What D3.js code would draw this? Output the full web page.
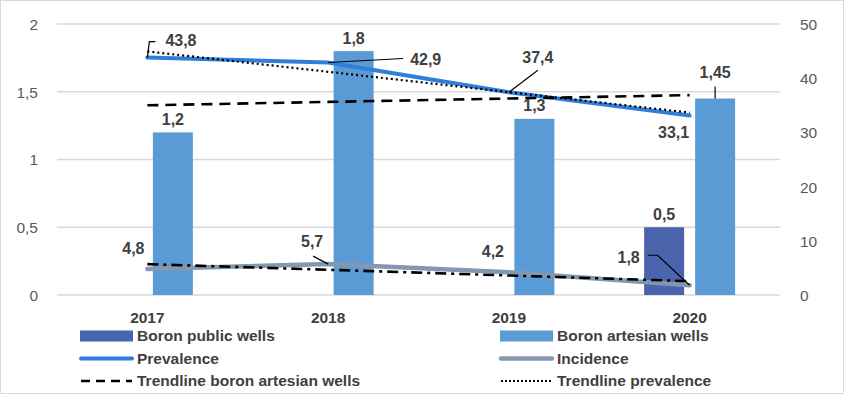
<!DOCTYPE html>
<html>
<head>
<meta charset="utf-8">
<script src="https://cdn.jsdelivr.net/npm/d3@7/dist/d3.min.js"></script>
<style>
  body { margin: 0; background: #fff; }
  #chart { width: 845px; height: 394px; }
  text { font-family: "Liberation Sans", Arial, sans-serif; }
</style>
</head>
<body>
<div id="chart"></div>
<script>
// DATA
var years = ["2017", "2018", "2019", "2020"];
var boronPublic = [0, 0, 0, 0.5];
var boronArtesian = [1.2, 1.8, 1.3, 1.45];
var prevalence = [43.8, 42.9, 37.4, 33.1];
var incidence = [4.8, 5.7, 4.2, 1.8];
// trendlines
var trendArtesian = [1.4, 1.425, 1.45, 1.475];
var trendPrevalence = [44.94, 41.18, 37.42, 33.66];
var trendIncidence = [5.7, 4.65, 3.6, 2.55];
var leftTicks = [0, 0.5, 1, 1.5, 2];
var rightTicks = [0, 10, 20, 30, 40, 50];

var W = 845, H = 394;
var mLeft = 57, mRight = 780, mTop = 24, mBottom = 295;
var txt = "#404040", axisTxt = "#595959";

var svg = d3.select("#chart").append("svg")
  .attr("width", W).attr("height", H);

// outer border
svg.append("rect")
  .attr("x", 0.5).attr("y", 0.5)
  .attr("width", W - 2).attr("height", H - 1)
  .attr("fill", "#fff").attr("stroke", "#d9d9d9");

// scales
var x = d3.scaleBand().domain(years).range([mLeft, mRight]).padding(0);
var bw = x.bandwidth();
var cx = function (d) { return x(d) + bw / 2; };
var x1 = d3.scaleBand().domain(["public", "artesian"])
  .range([bw / 2 - 45.5, bw / 2 + 45.5]).paddingInner(0.2157);
var yL = d3.scaleLinear().domain([0, 2]).range([mBottom, mTop]);
var yR = d3.scaleLinear().domain([0, 50]).range([mBottom, mTop]);

// gridlines
svg.append("g").selectAll("line")
  .data(leftTicks).enter().append("line")
  .attr("x1", mLeft).attr("x2", mRight)
  .attr("y1", function (d) { return yL(d); })
  .attr("y2", function (d) { return yL(d); })
  .attr("stroke", "#d9d9d9").attr("stroke-width", 1.3);

// left axis
var axL = svg.append("g").attr("transform", "translate(" + (mLeft - 16) + ",0)")
  .call(d3.axisLeft(yL).tickValues(leftTicks).tickSize(0)
    .tickFormat(function (d) { return String(d).replace(".", ","); }));
axL.select(".domain").remove();
axL.selectAll("text").attr("fill", axisTxt).style("font-size", "15.5px")
  .attr("dy", "0.35em");

// right axis
var axR = svg.append("g").attr("transform", "translate(" + (mRight + 17) + ",0)")
  .call(d3.axisRight(yR).tickValues(rightTicks).tickSize(0));
axR.select(".domain").remove();
axR.selectAll("text").attr("fill", axisTxt).style("font-size", "15.5px")
  .attr("dy", "0.35em");

// year labels
svg.append("g").selectAll("text")
  .data(years).enter().append("text")
  .attr("x", cx).attr("y", 318).attr("dy", "0.35em")
  .attr("text-anchor", "middle")
  .attr("fill", txt).style("font-size", "15.5px").style("font-weight", "bold")
  .text(function (d) { return d; });

// bars
var barData = [];
years.forEach(function (yr, i) {
  barData.push({ year: yr, key: "public", v: boronPublic[i] });
  barData.push({ year: yr, key: "artesian", v: boronArtesian[i] });
});
var colors = { public: "#4a64ae", artesian: "#5b9bd5" };
svg.append("g").selectAll("rect")
  .data(barData.filter(function (d) { return d.v > 0; }))
  .enter().append("rect")
  .attr("x", function (d) { return x(d.year) + x1(d.key); })
  .attr("width", x1.bandwidth())
  .attr("y", function (d) { return yL(d.v); })
  .attr("height", function (d) { return yL(0) - yL(d.v); })
  .attr("fill", function (d) { return colors[d.key]; });

// lines
function drawLine(vals, scale, color, width, dash) {
  var line = d3.line()
    .x(function (d, i) { return cx(years[i]); })
    .y(function (d) { return scale(d); });
  svg.append("path").datum(vals)
    .attr("d", line)
    .attr("fill", "none")
    .attr("stroke", color)
    .attr("stroke-width", width)
    .attr("stroke-dasharray", dash || null)
    .attr("stroke-linecap", dash ? "butt" : "round");
}
drawLine(prevalence, yR, "#2f7ed8", 4);
drawLine(incidence, yR, "#8497b0", 4.5);
drawLine(trendArtesian, yL, "#000", 2.6, "11,7");
drawLine(trendPrevalence, yR, "#000", 2.2, "2,3");
drawLine(trendIncidence, yR, "#000", 2.6, "11,5,3,5");

// data labels
function label(xp, yp, t, anchor) {
  svg.append("text")
    .attr("x", xp).attr("y", yp).attr("dy", "0.35em")
    .attr("text-anchor", anchor || "middle")
    .attr("fill", txt).style("font-size", "16px").style("font-weight", "bold")
    .text(t);
}
function leader(pts) {
  svg.append("path")
    .attr("d", d3.line()(pts))
    .attr("fill", "none").attr("stroke", "#000").attr("stroke-width", 1.2);
}
var fmt = function (v) { return String(v).replace(".", ","); };

// bar labels
barData.filter(function (d) { return d.v > 0; }).forEach(function (d) {
  var bx = x(d.year) + x1(d.key) + x1.bandwidth() / 2;
  var off = d.v === 1.45 ? 26 : 13;
  label(bx, yL(d.v) - off, fmt(d.v));
  if (d.v === 1.45) leader([[bx, yL(d.v)], [bx, yL(d.v) - 12]]);
});

// prevalence labels
var p0 = [cx(years[0]), yR(prevalence[0])];
leader([p0, [p0[0] + 2, p0[1] - 16], [p0[0] + 8, p0[1] - 16]]);
label(p0[0] + 18, p0[1] - 17, fmt(prevalence[0]), "start");
var p1 = [cx(years[1]), yR(prevalence[1])];
leader([p1, [p1[0] + 75, p1[1] - 4]]);
label(p1[0] + 82, p1[1] - 3, fmt(prevalence[1]), "start");
var p2 = [cx(years[2]), yR(prevalence[2])];
leader([p2, [p2[0] + 29, p2[1] - 22]]);
label(p2[0] + 29, p2[1] - 35, fmt(prevalence[2]));
var p3 = [cx(years[3]), yR(prevalence[3])];
label(p3[0] - 16, p3[1] + 17, fmt(prevalence[3]));

// incidence labels
var q0 = [cx(years[0]), yR(incidence[0])];
label(q0[0] - 14, q0[1] - 21, fmt(incidence[0]));
var q1 = [cx(years[1]), yR(incidence[1])];
leader([[q1[0] - 15, q1[1] - 8], [q1[0], q1[1]]]);
label(q1[0] - 16, q1[1] - 23, fmt(incidence[1]));
var q2 = [cx(years[2]), yR(incidence[2])];
label(q2[0] - 16, q2[1] - 21, fmt(incidence[2]));
var q3 = [cx(years[3]), yR(incidence[3])];
leader([[q3[0] - 42, q3[1] - 30], [q3[0] - 32, q3[1] - 30], q3]);
label(q3[0] - 61, q3[1] - 28, fmt(incidence[3]));

// legend
var legend = [
  { name: "Boron public wells", type: "rect", color: "#4a64ae", col: 0, row: 0 },
  { name: "Boron artesian wells", type: "rect", color: "#5b9bd5", col: 1, row: 0 },
  { name: "Prevalence", type: "line", color: "#2f7ed8", w: 4, col: 0, row: 1 },
  { name: "Incidence", type: "line", color: "#8497b0", w: 4.5, col: 1, row: 1 },
  { name: "Trendline boron artesian wells", type: "line", color: "#000", w: 2.6, dash: "9,6", col: 0, row: 2 },
  { name: "Trendline prevalence", type: "line", color: "#000", w: 2, dash: "2,2", col: 1, row: 2 }
];
var lg = svg.append("g").selectAll("g").data(legend).enter().append("g")
  .attr("transform", function (d) {
    return "translate(" + (d.col ? 500 : 80) + "," + (336 + d.row * 22.5) + ")";
  });
lg.filter(function (d) { return d.type === "rect"; }).append("rect")
  .attr("x", 0).attr("y", -5.5).attr("width", 53).attr("height", 11)
  .attr("fill", function (d) { return d.color; });
lg.filter(function (d) { return d.type === "line"; }).append("line")
  .attr("x1", 1).attr("x2", 52).attr("y1", 0).attr("y2", 0)
  .attr("stroke", function (d) { return d.color; })
  .attr("stroke-width", function (d) { return d.w; })
  .attr("stroke-dasharray", function (d) { return d.dash || null; })
  .attr("stroke-linecap", function (d) { return d.dash ? "butt" : "round"; });
lg.append("text")
  .attr("x", 57).attr("y", 0).attr("dy", "0.35em")
  .attr("fill", txt).style("font-size", "15.5px").style("font-weight", "bold")
  .text(function (d) { return d.name; });
</script>
</body>
</html>
